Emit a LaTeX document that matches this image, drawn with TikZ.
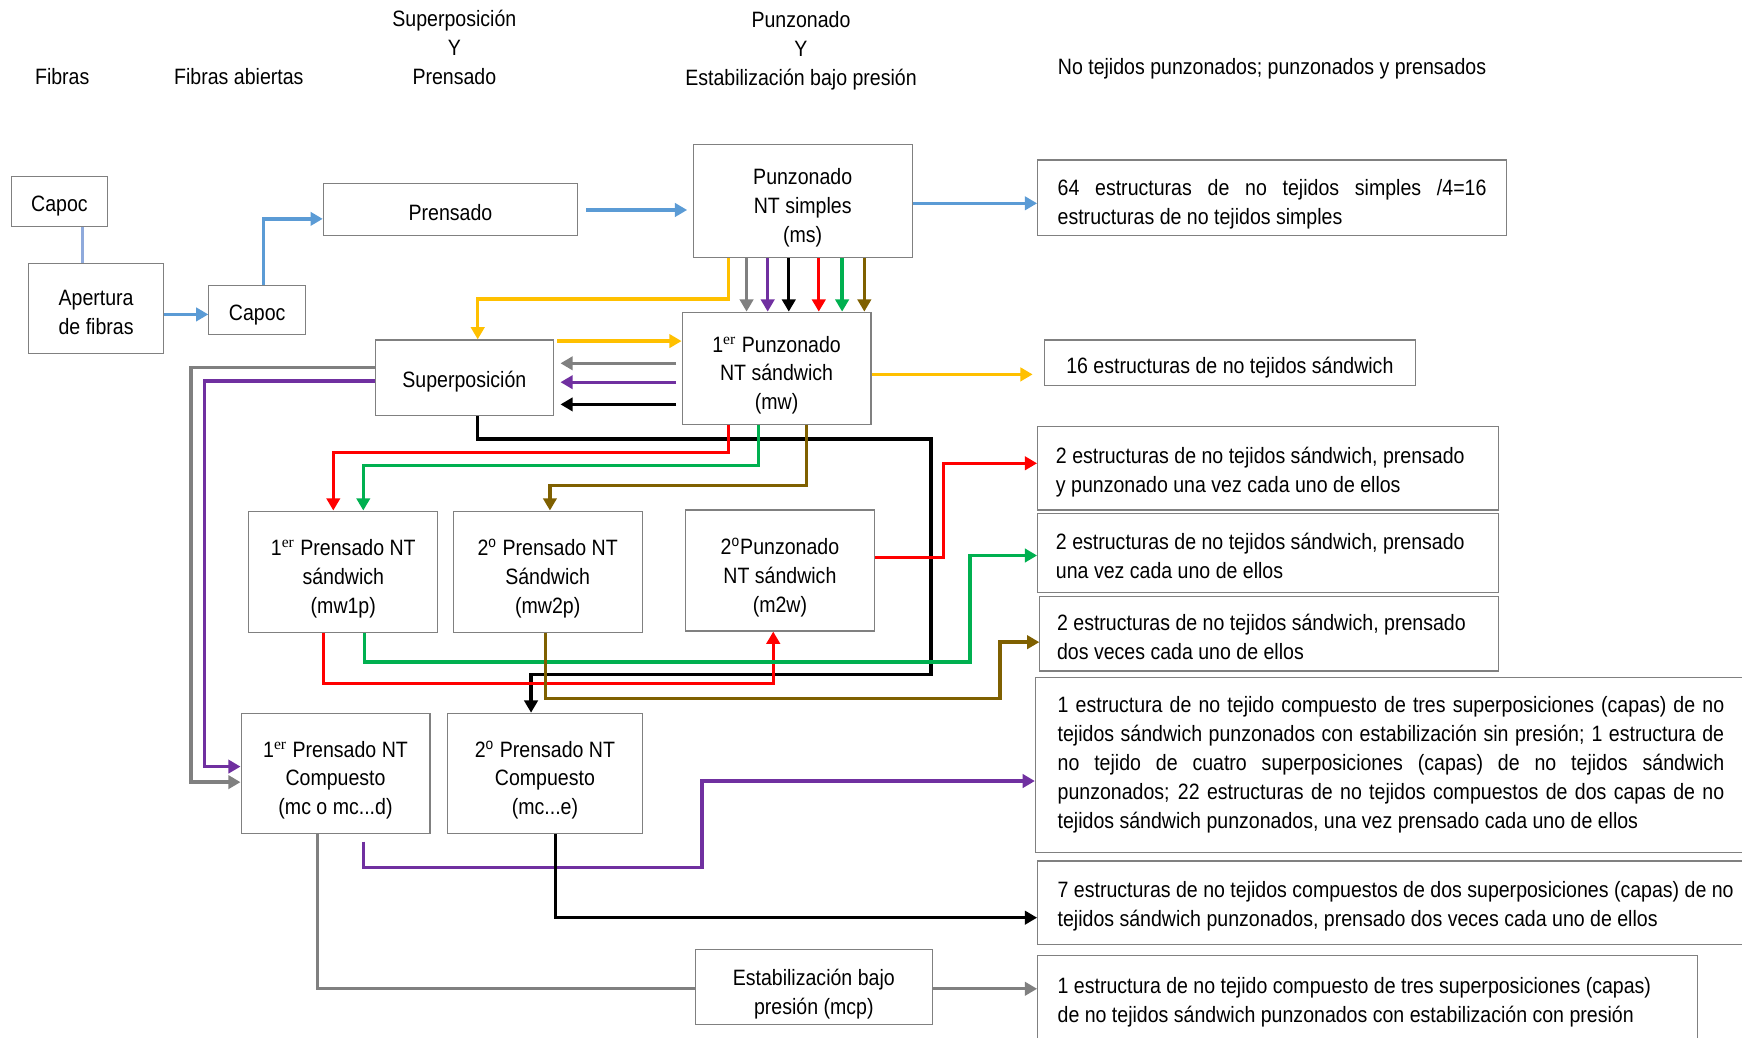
\documentclass[tikz,border=0pt]{standalone}
\usepackage{fontspec}
\setmainfont{Liberation Sans}[FakeStretch=0.88]
\newfontfamily\supfont{Liberation Serif}
\usetikzlibrary{arrows.meta,calc}
\definecolor{cblue}{HTML}{5B9BD5}
\definecolor{clblue}{HTML}{8FAADC}
\definecolor{cyellow}{HTML}{FFC000}
\definecolor{cgray}{HTML}{808080}
\definecolor{cpurple}{HTML}{7030A0}
\definecolor{cred}{HTML}{FF0000}
\definecolor{cgreen}{HTML}{00B050}
\definecolor{cbrown}{HTML}{7F6000}
\newcommand{\er}{\textsuperscript{\supfont er}}
\newcommand{\ord}{\textsuperscript{o}}

\begin{document}
\begin{tikzpicture}[x=0.5pt,y=-0.5pt,
	every node/.style={font=\fontsize{10}{13}\selectfont},
	bx/.style 2 args={draw=cgray,line width=0.5pt,align=center,inner sep=0pt,minimum width=#1*0.5pt,minimum height=#2*0.5pt},
	lift/.style={execute at begin node={\rule{0pt}{#1}}},
	multi/.style={text width=#1,align=flush center,lift=13.5pt},
	lnk/.style={line width=1.5pt},
	flow/.style={line width=1.5pt,-{Triangle[length=5.5pt,width=6pt]}}]
	\useasboundingbox (0,0) rectangle (1568,934);

	% column headings
	\node (hfib) at (56,69) {Fibras};
	\node (hfab) at (215,69) {Fibras abiertas};
	\node[align=center] (hsup) at (409,43) {Superposición\\Y\\Prensado};
	\node[align=center] (hpun) at (721,46) {Punzonado\\Y\\Estabilización bajo presión};
	\node (hres) at (1145,62) {No tejidos punzonados; punzonados y prensados};

	% process boxes
	\node[bx={87}{45},lift=10.5pt] (capoc1) at (53.5,181.5) {Capoc};
	\node[bx={121}{81},text width=54pt,align=flush center,lift=10.5pt] (apert) at (86.5,277.5) {Apertura\\de fibras};
	\node[bx={87}{44},lift=11.5pt] (capoc2) at (231.5,279) {Capoc};
	\node[bx={229}{47},lift=10.5pt] (prens) at (405.5,188.5) {Prensado};
	\node[bx={197}{102},multi=92pt] (punzs) at (722.5,181) {Punzonado\\NT simples\\(ms)};
	\node[bx={160}{68},lift=10.5pt] (superp) at (418,340) {Superposición};
	\node[bx={170}{101},multi=79pt] (punzw) at (699,331.5) {1\er{} Punzonado\\NT sándwich\\(mw)};
	\node[bx={170}{109},multi=79pt] (prw1) at (309,514.5) {1\er{} Prensado NT\\sándwich\\(mw1p)};
	\node[bx={170}{109},multi=79pt] (prw2) at (493,514.5) {2\ord{} Prensado NT\\Sándwich\\(mw2p)};
	\node[bx={170}{109},multi=79pt] (punw2) at (702,513.5) {2\ord{}Punzonado\\NT sándwich\\(m2w)};
	\node[bx={170}{108},multi=79pt] (prc1) at (302,696) {1\er{} Prensado NT\\Compuesto\\(mc o mc...d)};
	\node[bx={175}{108},multi=81pt] (prc2) at (490.5,696) {2\ord{} Prensado NT\\Compuesto\\(mc...e)};
	\node[bx={213}{67},multi=100pt] (estab) at (732.5,888.5) {Estabilización bajo\\presión (mcp)};

	% result boxes
	\node[bx={422}{68},text width=193pt,align=justify,lift=13pt] (r64) at (1145,178)
		{64 estructuras de no tejidos simples /4=16\linebreak estructuras de no tejidos simples};
	\node[bx={334}{41},lift=12pt] (r16) at (1107,326.5) {16 estructuras de no tejidos sándwich};
	\node[bx={415}{75},text width=191pt,align=flush left,lift=10.5pt] (rA) at (1141.5,421.5)
		{2 estructuras de no tejidos sándwich, prensado\\y punzonado una vez cada uno de ellos};
	\node[bx={415}{71},text width=191pt,align=flush left,lift=10.5pt] (rB) at (1141.5,497.5)
		{2 estructuras de no tejidos sándwich, prensado\\una vez cada uno de ellos};
	\node[bx={413}{67},text width=191pt,align=flush left,lift=10.5pt] (rC) at (1142.5,570.5)
		{2 estructuras de no tejidos sándwich, prensado\\dos veces cada uno de ellos};
	\node[bx={640}{157},text width=300pt,align=justify] (rD) at (1252,688.5)
		{1 estructura de no tejido compuesto de tres superposiciones (capas) de no\linebreak
		tejidos sándwich punzonados con estabilización sin presión; 1 estructura de\linebreak
		no tejido de cuatro superposiciones (capas) de no tejidos sándwich\linebreak
		punzonados; 22 estructuras de no tejidos compuestos de dos capas de no\linebreak
		tejidos sándwich punzonados, una vez prensado cada uno de ellos};
	\node[bx={676}{75},text width=320pt,align=flush left,lift=10.5pt] (rE) at (1272,812.5)
		{7 estructuras de no tejidos compuestos de dos superposiciones (capas) de no\\tejidos sándwich punzonados, prensado dos veces cada uno de ellos};
	\node[bx={594}{84},text width=279pt,align=flush left] (rF) at (1231,902)
		{1 estructura de no tejido compuesto de tres superposiciones (capas)\\de no tejidos sándwich punzonados con estabilización con presión};

	% blue chain
	\draw[lnk,clblue] (capoc1.south -| 74,0) -- (apert.north -| 74,0);
	\draw[flow,cblue] (apert.east |- 0,283) -- (capoc2.west |- 0,283);
	\draw[flow,cblue] (capoc2.north -| 237,0) |- (prens.west |- 0,197);
	\draw[flow,cblue,shorten <=3.5pt,shorten >=2.5pt] (prens.east |- 0,189) -- (punzs.west |- 0,189);
	\draw[flow,cblue] (punzs.east |- 0,183) -- (r64.west |- 0,183);

	% yellow
	\draw[flow,cyellow] (punzs.south -| 656,0) |- (430,269) -- (superp.north -| 430,0);
	\draw[flow,cyellow,shorten <=1.5pt] (superp.east |- 0,307) -- (punzw.west |- 0,307);
	\draw[flow,cyellow,shorten >=5pt] (punzw.east |- 0,337) -- (r16.west |- 0,337);

	% simple -> sandwich
	\foreach \xx/\cc in {672/cgray,691/cpurple,710/black,737/cred,758/cgreen,778/cbrown}
		\draw[flow,\cc] (punzs.south -| \xx,0) -- (punzw.north -| \xx,0);
	\foreach \yy/\cc in {327/cgray,344/cpurple,364/black}
		\draw[flow,\cc,shorten <=2.5pt,shorten >=3pt] (punzw.west |- 0,\yy) -- (superp.east |- 0,\yy);

	% superposition -> composites
	\draw[flow,cgray] (superp.west |- 0,331) -| (172,704) -- (prc1.west |- 0,704);
	\draw[flow,cpurple] (superp.west |- 0,343) -| (184,690) -- (prc1.west |- 0,690);
	\draw[flow,black] (superp.south -| 430,0) |- (838,395) |- (478,607) -- (prc2.north -| 478,0);

	% sandwich -> pressing
	\draw[flow,cred] (punzw.south -| 656,0) |- (300,407) -- (prw1.north -| 300,0);
	\draw[flow,cgreen] (punzw.south -| 683,0) |- (327,419) -- (prw1.north -| 327,0);
	\draw[flow,cbrown] (punzw.south -| 726,0) |- (495,437) -- (prw2.north -| 495,0);
	\draw[flow,cred] (prw1.south -| 291,0) |- (696,615) -- (punw2.south -| 696,0);
	\draw[flow,cgreen] (prw1.south -| 328,0) |- (873,596) |- (rB.west |- 0,500);
	\draw[flow,cred] (punw2.east |- 0,502) -| (849,417) -- (rA.west |- 0,417);
	\draw[flow,cbrown] (prw2.south -| 491,0) |- (900,629) |- (rC.west |- 0,578);

	% composites -> results
	\draw[flow,cpurple,shorten <=3.5pt] (prc1.south -| 327,0) |- (632,781) |- (rD.west |- 0,703);
	\draw[flow,black] (prc2.south -| 500,0) |- (rE.west |- 0,826);
	\draw[lnk,cgray] (prc1.south -| 286,0) |- (estab.west |- 0,890);
	\draw[flow,cgray] (estab.east |- 0,890) -- (rF.west |- 0,890);
\end{tikzpicture}
\end{document}
